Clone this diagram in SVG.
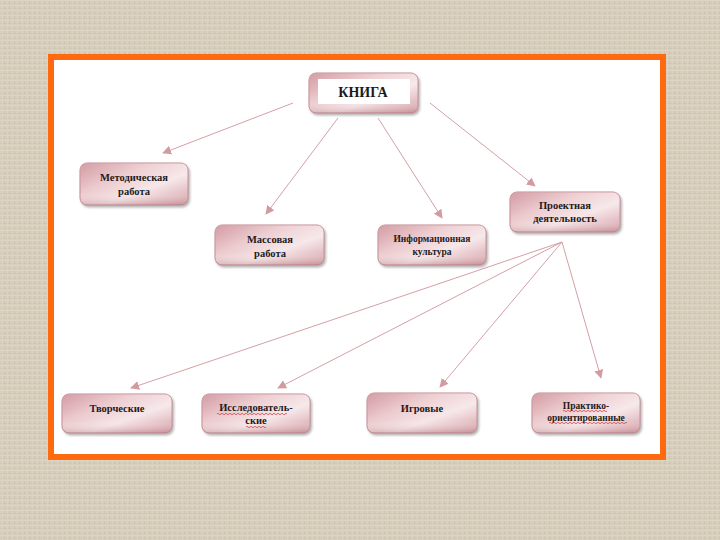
<svg xmlns="http://www.w3.org/2000/svg" width="720" height="540" viewBox="0 0 720 540">
<defs>
<pattern id="linen" width="5" height="5" patternUnits="userSpaceOnUse">
<rect width="5" height="5" fill="#d7cebb"/>
<rect x="0" y="0" width="5" height="1" fill="#dfd7c6" opacity="0.8"/>
<rect x="0" y="3" width="5" height="1" fill="#cdc4b0" opacity="0.6"/>
<rect x="2" y="0" width="1" height="5" fill="#ded6c4" opacity="0.6"/>
<rect x="4" y="1" width="1" height="3" fill="#c9bfab" opacity="0.5"/>
</pattern>
<linearGradient id="nodeFill" x1="0" y1="0" x2="1" y2="1">
<stop offset="0" stop-color="#c9868f"/>
<stop offset="0.35" stop-color="#ebc8cc"/>
<stop offset="0.62" stop-color="#f6e6e8"/>
<stop offset="1" stop-color="#d6a2a9"/>
</linearGradient>
<linearGradient id="nodeShade" x1="0" y1="0" x2="0" y2="1">
<stop offset="0" stop-color="#ffffff" stop-opacity="0.2"/>
<stop offset="0.7" stop-color="#ffffff" stop-opacity="0"/>
<stop offset="1" stop-color="#a86a72" stop-opacity="0.35"/>
</linearGradient>
<filter id="shadow" x="-10%" y="-10%" width="125%" height="135%">
<feDropShadow dx="1.5" dy="2" stdDeviation="1.2" flood-color="#777" flood-opacity="0.55"/>
</filter>
<marker id="arrow" viewBox="0 0 10 10" refX="9" refY="5" markerWidth="9" markerHeight="9" markerUnits="userSpaceOnUse" orient="auto">
<path d="M0,0 L10,5 L0,10 Z" fill="#d49aa1"/>
</marker>
<style>
.box{fill:url(#nodeFill);stroke:#c48a92;stroke-width:1;filter:url(#shadow)}
.shade{fill:url(#nodeShade);stroke:none}
.t{font-family:"Liberation Serif","DejaVu Serif",serif;font-weight:bold;font-size:10.5px;fill:#1e1a1a;text-anchor:middle}
.ts{font-size:9.5px}
.conn{stroke:#d4a0a6;stroke-width:1;fill:none;marker-end:url(#arrow)}
.wavy{stroke:#d03030;stroke-width:0.7;fill:none}
</style>
</defs>
<rect width="720" height="540" fill="url(#linen)"/>
<rect x="51" y="57" width="612" height="400" fill="#ffffff" stroke="#ff6a10" stroke-width="6"/>

<g id="connectors">
<line class="conn" x1="293" y1="103" x2="163" y2="153"/>
<line class="conn" x1="338" y1="118" x2="266" y2="214"/>
<line class="conn" x1="378" y1="118" x2="442" y2="218"/>
<line class="conn" x1="430" y1="103" x2="535" y2="186"/>
<line class="conn" x1="562" y1="242" x2="131" y2="388"/>
<line class="conn" x1="562" y1="242" x2="278" y2="388"/>
<line class="conn" x1="562" y1="242" x2="440" y2="387"/>
<line class="conn" x1="562" y1="242" x2="601" y2="378"/>
</g>

<g id="node-kniga">
<rect class="box" x="309" y="73" width="109" height="40" rx="7"/>
<rect class="shade" x="309" y="73" width="109" height="40" rx="7"/>
<rect x="318" y="79" width="92" height="25" fill="#ffffff"/>
<text class="t" x="363" y="97" style="font-size:14px">КНИГА</text>
</g>

<g id="node-metod">
<rect class="box" x="80" y="163" width="108" height="42" rx="7"/>
<rect class="shade" x="80" y="163" width="108" height="42" rx="7"/>
<text class="t" x="134" y="181">Методическая</text>
<text class="t" x="134" y="195">работа</text>
</g>

<g id="node-massov">
<rect class="box" x="215" y="225" width="109" height="40" rx="7"/>
<rect class="shade" x="215" y="225" width="109" height="40" rx="7"/>
<text class="t" x="270" y="243">Массовая</text>
<text class="t" x="270" y="257">работа</text>
</g>

<g id="node-inform">
<rect class="box" x="378" y="225" width="108" height="40" rx="7"/>
<rect class="shade" x="378" y="225" width="108" height="40" rx="7"/>
<text class="t ts" x="432" y="242">Информационная</text>
<text class="t ts" x="432" y="255">культура</text>
</g>

<g id="node-proekt">
<rect class="box" x="510" y="192" width="110" height="40" rx="7"/>
<rect class="shade" x="510" y="192" width="110" height="40" rx="7"/>
<text class="t" x="565" y="209">Проектная</text>
<text class="t" x="565" y="222">деятельность</text>
</g>

<g id="node-tvorch">
<rect class="box" x="62" y="394" width="110" height="39" rx="7"/>
<rect class="shade" x="62" y="394" width="110" height="39" rx="7"/>
<text class="t" x="117" y="412">Творческие</text>
</g>

<g id="node-issled">
<rect class="box" x="202" y="394" width="108" height="39" rx="7"/>
<rect class="shade" x="202" y="394" width="108" height="39" rx="7"/>
<text class="t" x="256" y="411">Исследователь-</text>
<text class="t" x="256" y="424">ские</text>
<path class="wavy" d="M217,414 q1,-1.5 2,0 t2,0 t2,0 t2,0 t2,0 t2,0 t2,0 t2,0 t2,0 t2,0 t2,0 t2,0 t2,0 t2,0 t2,0 t2,0 t2,0 t2,0 t2,0 t2,0 t2,0 t2,0 t2,0 t2,0 t2,0 t2,0 t2,0 t2,0 t2,0 t2,0 t2,0 t2,0 t2,0 t2,0 t2,0"/>
<path class="wavy" d="M246,427 q1,-1.5 2,0 t2,0 t2,0 t2,0 t2,0 t2,0 t2,0 t2,0 t2,0 t2,0"/>
</g>

<g id="node-igrov">
<rect class="box" x="367" y="393" width="110" height="40" rx="7"/>
<rect class="shade" x="367" y="393" width="110" height="40" rx="7"/>
<text class="t" x="422" y="412">Игровые</text>
</g>

<g id="node-prakt">
<rect class="box" x="532" y="393" width="108" height="40" rx="7"/>
<rect class="shade" x="532" y="393" width="108" height="40" rx="7"/>
<text class="t ts" x="586" y="409">Практико-</text>
<text class="t ts" x="586" y="421">ориентированные</text>
<path class="wavy" d="M563,411 q1,-1.5 2,0 t2,0 t2,0 t2,0 t2,0 t2,0 t2,0 t2,0 t2,0 t2,0 t2,0 t2,0 t2,0 t2,0 t2,0 t2,0 t2,0 t2,0 t2,0 t2,0 t2,0 t2,0"/>
<path class="wavy" d="M549,423 q1,-1.5 2,0 t2,0 t2,0 t2,0 t2,0 t2,0 t2,0 t2,0 t2,0 t2,0 t2,0 t2,0 t2,0 t2,0 t2,0 t2,0 t2,0 t2,0 t2,0 t2,0 t2,0 t2,0 t2,0 t2,0 t2,0 t2,0 t2,0 t2,0 t2,0 t2,0 t2,0 t2,0 t2,0 t2,0 t2,0 t2,0 t2,0 t2,0 t2,0"/>
</g>
</svg>
